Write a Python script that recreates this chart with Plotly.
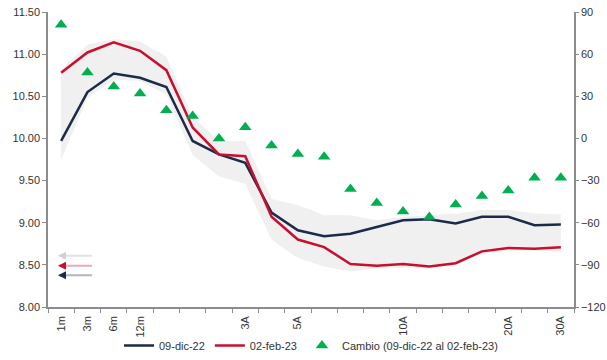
import plotly.graph_objects as go

# Tenor buckets (20 points) and the labels shown on the x axis
tenor_idx = list(range(20))
label_pos = [0, 1, 2, 3, 7, 9, 13, 17, 19]
label_text = ["1m", "3m", "6m", "12m", "3A", "5A", "10A", "20A", "30A"]

# Yield curves (%)
curve_dic22 = [9.97, 10.55, 10.77, 10.72, 10.61, 9.97, 9.81, 9.71, 9.12, 8.91,
               8.84, 8.87, 8.95, 9.03, 9.04, 8.99, 9.07, 9.07, 8.97, 8.98]
curve_feb23 = [10.78, 11.02, 11.14, 11.04, 10.81, 10.13, 9.81, 9.79, 9.07, 8.80,
               8.71, 8.51, 8.49, 8.51, 8.48, 8.52, 8.66, 8.70, 8.69, 8.71]

# Historical range band (%)
band_low = [9.75, 10.48, 10.70, 10.68, 10.52, 9.80, 9.55, 9.46, 8.80, 8.58,
            8.48, 8.42, 8.46, 8.47, 8.46, 8.50, 8.63, 8.67, 8.67, 8.65]
band_high = [10.82, 11.11, 11.18, 11.15, 10.97, 10.26, 9.97, 9.97, 9.28, 9.21,
             9.09, 9.09, 9.03, 9.07, 9.09, 9.11, 9.15, 9.15, 9.11, 9.10]

# Change between dates (bp)
change_bp = [81, 47, 37, 32, 20, 16, 0, 8, -5, -11,
             -13, -36, -46, -52, -56, -47, -41, -37, -28, -28]

NAVY = "#1c2b49"
RED = "#c8102e"
GREEN = "#00b050"
BAND = "#f0f0f0"
AXIS = "#8c8c8c"
TEXT = "#333333"
FONT = "Liberation Sans, Arial, sans-serif"

fig = go.Figure()

fig.add_trace(go.Scatter(x=tenor_idx, y=band_low, mode="lines",
                         line=dict(width=0, color=BAND), showlegend=False,
                         hoverinfo="skip"))
fig.add_trace(go.Scatter(x=tenor_idx, y=band_high, mode="lines",
                         line=dict(width=0, color=BAND), fill="tonexty",
                         fillcolor=BAND, showlegend=False, hoverinfo="skip"))

fig.add_trace(go.Scatter(x=tenor_idx, y=curve_dic22, mode="lines", name="09-dic-22",
                         line=dict(color=NAVY, width=2.5)))
fig.add_trace(go.Scatter(x=tenor_idx, y=curve_feb23, mode="lines", name="02-feb-23",
                         line=dict(color=RED, width=2.5)))
fig.add_trace(go.Scatter(x=tenor_idx, y=change_bp, mode="markers", yaxis="y2",
                         name="Cambio (09-dic-22 al 02-feb-23)",
                         marker=dict(symbol="triangle-up", size=11, color=GREEN)))

# Small left-pointing arrows near the bottom-left corner
arrows = [(0.174, "#e3e3e3", "#d0d0d0"), (0.140, "#eba8b5", RED), (0.108, "#b0b6c2", NAVY)]
annotations = []
for yp, shaft, head in arrows:
    annotations.append(dict(xref="paper", yref="paper", x=0.022, y=yp, ax=34, ay=0,
                            showarrow=True, arrowhead=0, arrowwidth=2,
                            arrowcolor=shaft, text=""))
    annotations.append(dict(xref="paper", yref="paper", x=0.019, y=yp, ax=5, ay=0,
                            showarrow=True, arrowhead=2, arrowsize=0.8, arrowwidth=2,
                            arrowcolor=head, text=""))

fig.update_layout(
    width=607, height=360,
    margin=dict(l=48, r=33, t=12, b=53, autoexpand=False),
    paper_bgcolor="white", plot_bgcolor="white",
    font=dict(family=FONT, size=11, color=TEXT),
    showlegend=True,
    legend=dict(orientation="h", x=0.5, xanchor="center", yref="container",
                y=-0.012, yanchor="bottom", font=dict(size=11, color=TEXT),
                bgcolor="rgba(0,0,0,0)",
                traceorder="normal", itemwidth=30, tracegroupgap=0),
    xaxis=dict(range=[-0.5, 19.5], tickmode="array", tickvals=label_pos,
               ticktext=label_text, tickangle=-90, ticks="", showgrid=False,
               ticklabelstandoff=3,
               zeroline=False, showline=True, linecolor=AXIS, linewidth=1.5,
               minor=dict(tick0=-0.5, dtick=1, ticks="outside", ticklen=4,
                          tickcolor=AXIS, showgrid=False)),
    yaxis=dict(range=[8, 11.5], dtick=0.5, tickformat=".2f", showgrid=False,
               zeroline=False, showline=True, linecolor=AXIS, linewidth=1.5,
               ticks="outside", ticklen=4, tickcolor=AXIS),
    yaxis2=dict(range=[-120, 90], dtick=30, overlaying="y", side="right",
                showgrid=False, zeroline=False, showline=True, linecolor=AXIS,
                linewidth=1.5, ticks="outside", ticklen=3, tickcolor=AXIS),
    annotations=annotations,
)

fig.write_html("out.html")
